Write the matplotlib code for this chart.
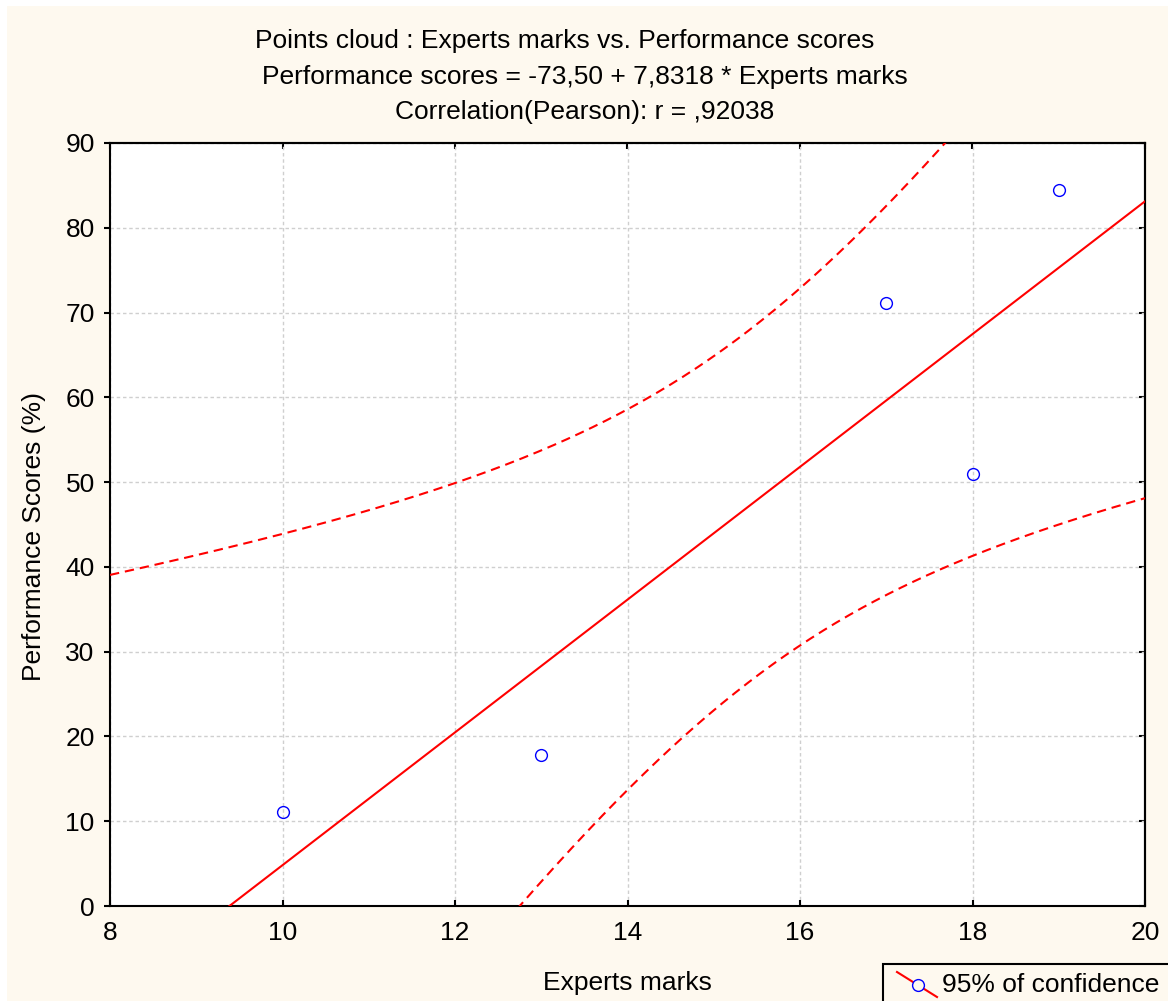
import numpy as np
import matplotlib
matplotlib.use("Agg")
import matplotlib.pyplot as plt
from matplotlib.patches import Rectangle
from matplotlib.lines import Line2D

# ---- data ----
experts_marks = [10, 13, 17, 18, 19]
performance_scores = [11.1, 17.8, 71.1, 51.0, 84.5]
x_ticks = [8, 10, 12, 14, 16, 18, 20]
y_ticks = [0, 10, 20, 30, 40, 50, 60, 70, 80, 90]
t_975_df3 = 3.182446  # Student t quantile for 95% CI, df = n - 2 = 3

title_lines = ["Points cloud : Experts marks vs. Performance scores",
               "Performance scores = -73,50 + 7,8318 * Experts marks",
               "Correlation(Pearson): r = ,92038"]

plt.rcParams['font.family'] = ['Liberation Sans', 'DejaVu Sans']
FS = 19

W, H = 1168, 1001
fig = plt.figure(figsize=(W / 100, H / 100), dpi=100, facecolor='white')
cream = '#FEF9EF'
fig.patches.append(Rectangle((7 / W, 0), 1, (H - 6) / H, transform=fig.transFigure,
                             facecolor=cream, edgecolor='none', zorder=-10))

ax = fig.add_axes([110 / W, (H - 906) / H, (1145 - 110) / W, (906 - 143) / H])
ax.set_facecolor('white')

x = np.asarray(experts_marks, float)
y = np.asarray(performance_scores, float)
b1, b0 = np.polyfit(x, y, 1)
n = len(x)
resid = y - (b0 + b1 * x)
s = np.sqrt(np.sum(resid ** 2) / (n - 2))
sxx = np.sum((x - x.mean()) ** 2)
xs = np.linspace(8, 20, 400)
fit = b0 + b1 * xs
half = t_975_df3 * s * np.sqrt(1 / n + (xs - x.mean()) ** 2 / sxx)

ax.plot(xs, fit, color='#FF0000', lw=1.5, zorder=3)
ax.plot(xs, fit + half, color='#FF0000', lw=1.5, ls=(0, (4.5, 2.8)), zorder=3)
ax.plot(xs, fit - half, color='#FF0000', lw=1.5, ls=(0, (4.5, 2.8)), zorder=3)
ax.plot(x, y, 'o', mfc='none', mec='#0000FF', mew=1.0, ms=8.5, zorder=4)

ax.set_xlim(8, 20)
ax.set_ylim(0, 90)
ax.set_xticks(x_ticks)
ax.set_yticks(y_ticks)
ax.grid(True, color='#CFCFCF', lw=1.0, ls=(0, (2.5, 2)))
ax.set_axisbelow(True)
for sp in ax.spines.values():
    sp.set_linewidth(1.5)
ax.tick_params(axis='x', direction='in', length=4, width=1.5, labelsize=FS, pad=11, top=False)
ax.tick_params(axis='y', direction='out', length=4, width=1.5, labelsize=FS, pad=7)

sec_y = ax.secondary_yaxis('right')
sec_y.set_yticks(y_ticks)
sec_y.tick_params(direction='in', length=4, width=1.5, labelright=False)
sec_y.spines['right'].set_linewidth(1.5)
sec_x = ax.secondary_xaxis('top')
sec_x.set_xticks(x_ticks)
sec_x.tick_params(direction='in', length=4, width=1.5, labeltop=False)
sec_x.spines['top'].set_linewidth(1.5)

ax.set_xlabel("Experts marks", fontsize=FS)
ax.set_ylabel("Performance Scores (%)", fontsize=FS)
ax.xaxis.set_label_coords(0.5, -0.085)
ax.yaxis.set_label_coords(-0.062, 0.484)

fig.text(565 / W, 1 - 41 / H, title_lines[0], ha='center', va='center', fontsize=FS)
fig.text(585 / W, 1 - 77 / H, title_lines[1], ha='center', va='center', fontsize=FS)
fig.text(585 / W, 1 - 112 / H, title_lines[2], ha='center', va='center', fontsize=FS)

# legend box (clipped at figure edge like the original)
fig.patches.append(Rectangle((883 / W, -0.02), 0.3, 0.02 + (H - 964) / H, transform=fig.transFigure,
                             facecolor=cream, edgecolor='black', lw=1.5, zorder=5))
fig.lines.append(Line2D([897 / W, 937 / W], [1 - 972 / H, 1 - 997 / H], transform=fig.transFigure,
                        color='#FF0000', lw=1.5, zorder=6))
fig.lines.append(Line2D([918 / W], [1 - 985 / H], transform=fig.transFigure, marker='o',
                        mfc=cream, mec='#0000FF', mew=1.0, ms=8.5, ls='none', zorder=7))
fig.text(942 / W, 1 - 985 / H, "95% of confidence", ha='left', va='center', fontsize=FS, zorder=7)

fig.savefig("out.png", dpi=100, facecolor=fig.get_facecolor())
